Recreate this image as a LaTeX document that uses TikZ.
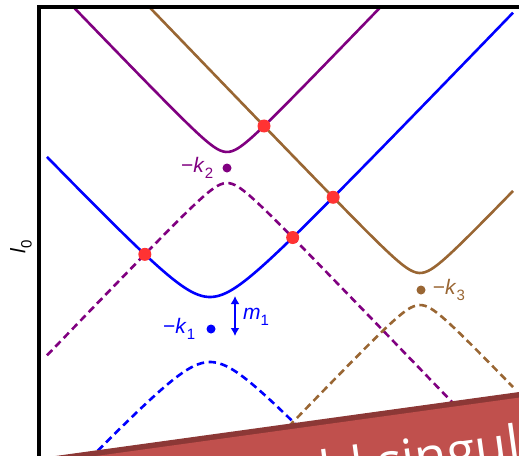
\documentclass[tikz,border=0pt]{standalone}
\usepackage{fontspec}
\setmainfont{Liberation Sans}
\newfontfamily\bannerfont{Open Sans}
\usetikzlibrary{arrows.meta, positioning, intersections}
\definecolor{cblue}{HTML}{0000FF}
\definecolor{cpurple}{HTML}{800080}
\definecolor{cbrown}{HTML}{996633}
\definecolor{cdot}{HTML}{FF3333}
\definecolor{band}{HTML}{C0504D}
\definecolor{bandedge}{HTML}{8C3836}
\newcommand{\lab}[2]{\textit{#1}\raisebox{-0.3em}{\fontsize{15}{15}\selectfont #2}}
\tikzset{
  br/.style={line width=2.6pt, line join=round},
  bd/.style={br, dash pattern=on 7.5pt off 4.5pt},
  pt/.style={circle, fill=cdot, inner sep=0pt, minimum size=13pt},
  pole/.style={circle, inner sep=0pt, minimum size=9pt},
  lbl/.style={font=\fontsize{21}{24}\selectfont, inner sep=1pt},
  ar/.style={{Latex[length=8pt,width=9pt]}-{Latex[length=8pt,width=9pt]}, line width=2.2pt},
}

\begin{document}
\begin{tikzpicture}[x=1pt, y=-1pt,
  declare function={hyp(\p,\q)=100*sqrt((1.04*\p/100)^2+(\q/100)^2);}]
\clip (0,0) rectangle (519,455);

% frame
\draw[line width=4pt] (39,470) -- (39,7) -- (530,7);

% branches
\begin{scope}
\clip (41,9) rectangle (519,470);
\draw[br, cpurple, name path global=purup] plot[domain=47:513, samples=160, smooth] (\x, {167.5-hyp(\x-227,15.5)});
\draw[br, cbrown, name path global=brnup] plot[domain=47:513, samples=160, smooth] (\x, {289-hyp(\x-420,16)});
\draw[br, cblue, name path global=bluup] plot[domain=47:513, samples=160, smooth] (\x, {329.5-hyp(\x-210,32.5)});
\draw[bd, cpurple, name path global=purlo] plot[domain=47:513, samples=160, smooth] (\x, {167.5+hyp(\x-227,15.5)});
\draw[bd, cbrown] plot[domain=47:513, samples=160, smooth] (\x, {289+hyp(\x-420,16)});
\draw[bd, cblue] plot[domain=47:513, samples=160, smooth] (\x, {329.5+hyp(\x-210,32.5)});
\end{scope}

% crossings
\path[name intersections={of=purup and brnup, name=pb}];
\path[name intersections={of=bluup and brnup, name=bb}];
\path[name intersections={of=bluup and purlo, name=bp}];
\node[pt] (x1) at (pb-1) {};
\node[pt] (x2) at (bb-1) {};
\node[pt] (x3) at (bp-1) {};
\node[pt] (x4) at (bp-2) {};

% poles
\node[pole, fill=cblue] (k1) at (211,329) {};
\node[pole, fill=cpurple] (k2) at (227,168) {};
\node[pole, fill=cbrown] (k3) at (421,290) {};
\node[lbl, text=cblue, left=10pt of k1] (k1l) {−\lab{k}{1}};
\node[lbl, text=cpurple, left=8pt of k2] (k2l) {−\lab{k}{2}};
\node[lbl, text=cbrown, right=6pt of k3] (k3l) {−\lab{k}{3}};

% mass gap
\coordinate (mt) at (235,296);
\coordinate (mb) at (235,336);
\draw[ar, cblue] (mt) -- (mb);
\node[lbl, text=cblue, anchor=west] (m1) at (242,317) {\lab{m}{1}};

% axis
\node[lbl, rotate=90] (l0) at (21,247) {\lab{l}{0}};

% banner
\fill[bandedge] (20,460.9) -- (530,390.5) -- (543.7,489.6) -- (33.7,560) -- cycle;
\fill[band] (20.75,466.4) -- (530.75,396) -- (543.7,489.6) -- (33.7,560) -- cycle;
\node[text=white, font=\bannerfont\fontsize{52}{56}\selectfont, inner sep=0pt,
  rotate=7.87, anchor=base west] (note) at (136,515) {threshold singularity};
\end{tikzpicture}
\end{document}
